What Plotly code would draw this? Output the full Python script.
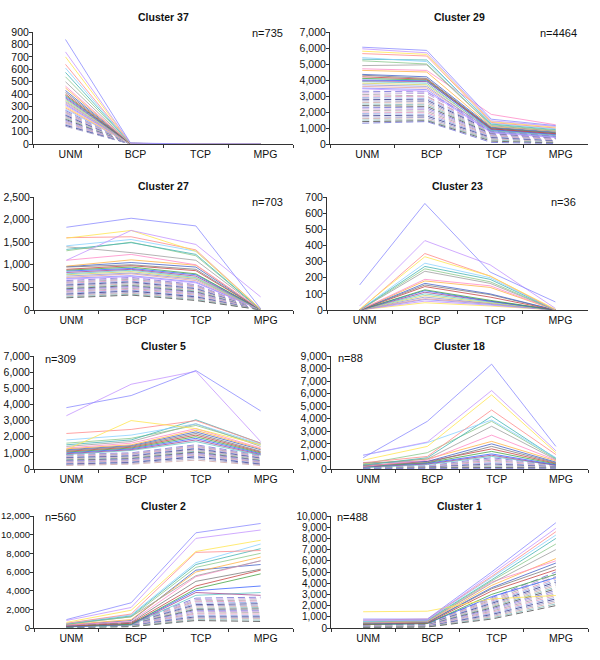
import plotly.graph_objects as go

CATEGORIES = ["UNM", "BCP", "TCP", "MPG"]

TITLES = ["Cluster 37", "Cluster 29", "Cluster 27", "Cluster 23",
          "Cluster 5", "Cluster 18", "Cluster 2", "Cluster 1"]
COUNTS = ["n=735", "n=4464", "n=703", "n=36", "n=309", "n=88", "n=560", "n=488"]
Y_MAX = [900, 7000, 2500, 700, 7000, 9000, 12000, 10000]
Y_STEP = [100, 1000, 500, 100, 1000, 1000, 2000, 1000]

# profiles: [UNM, BCP, TCP, MPG]
C37_SOLID = [[840, 8, 0, 0], [740, 6, 0, 0], [700, 5, 0, 0], [640, 6, 0, 0], [610, 4, 0, 0],
             [575, 5, 0, 0], [540, 6, 0, 0], [500, 4, 0, 0], [465, 5, 0, 0], [450, 4, 0, 0],
             [430, 5, 0, 0], [415, 3, 0, 0], [400, 4, 0, 0], [390, 3, 0, 0], [380, 5, 0, 0],
             [370, 3, 0, 0], [360, 4, 0, 0], [350, 3, 0, 0], [340, 2, 0, 0], [330, 3, 0, 0],
             [320, 2, 0, 0], [310, 3, 0, 0], [300, 2, 0, 0], [290, 2, 0, 0], [280, 2, 0, 0]]
C37_DASHED = [[270, 2, 0, 0], [262, 2, 0, 0], [254, 2, 0, 0], [246, 2, 0, 0], [238, 1, 0, 0],
              [230, 1, 0, 0], [222, 1, 0, 0], [214, 1, 0, 0], [206, 1, 0, 0], [198, 1, 0, 0],
              [190, 1, 0, 0], [182, 1, 0, 0], [174, 0, 0, 0], [166, 0, 0, 0], [158, 0, 0, 0],
              [150, 0, 0, 0], [142, 0, 0, 0]]

C29_SOLID = [[6050, 5850, 1550, 1150], [5950, 5700, 1450, 1100], [5800, 5600, 1400, 1050],
             [5650, 5500, 1350, 1000], [5400, 5150, 1300, 950], [5300, 5250, 1250, 900],
             [5200, 5000, 1200, 850], [4900, 4950, 1150, 800], [4700, 4600, 1850, 1200],
             [4600, 4500, 1100, 800], [4350, 4200, 1050, 750], [4300, 4100, 1000, 700],
             [4200, 4050, 950, 650], [4100, 4000, 1000, 700], [4000, 3950, 900, 600],
             [3950, 3900, 950, 650], [3900, 3800, 850, 550], [3800, 3700, 900, 600],
             [3700, 3600, 800, 500], [3600, 3500, 850, 550], [3500, 3400, 750, 450],
             [3450, 3300, 700, 400]]
C29_DASHED = [[3300, 3250, 1000, 600], [3200, 3150, 950, 580], [3100, 3000, 900, 550],
              [3000, 2950, 870, 520], [2900, 2850, 830, 500], [2800, 2750, 800, 470],
              [2700, 2650, 760, 440], [2600, 2550, 720, 420], [2500, 2450, 690, 390],
              [2400, 2350, 650, 360], [2300, 2250, 610, 330], [2200, 2150, 570, 300],
              [2100, 2050, 530, 270], [2000, 1950, 490, 240], [1900, 1850, 450, 210],
              [1800, 1750, 400, 180], [1700, 1650, 350, 150], [1600, 1550, 300, 120],
              [1500, 1500, 250, 90], [1400, 1450, 180, 60], [1300, 1400, 100, 30]]

C27_SOLID = [[1830, 2030, 1860, 30], [1100, 1760, 1450, 290], [1590, 1760, 1300, 20],
             [1600, 1620, 1330, 20], [1420, 1560, 1300, 15], [1340, 1490, 1230, 10],
             [1310, 1500, 1200, 10], [1400, 1270, 1100, 20], [1100, 1230, 1000, 10],
             [970, 1110, 990, 10], [960, 1050, 950, 10], [950, 1000, 900, 10],
             [900, 980, 870, 10], [880, 950, 800, 10], [860, 920, 780, 10],
             [830, 900, 750, 10], [800, 880, 720, 5], [780, 850, 700, 5],
             [750, 820, 680, 5], [720, 800, 650, 5], [700, 760, 620, 5], [680, 740, 600, 5]]
C27_DASHED = [[650, 720, 560, 5], [630, 700, 545, 5], [610, 680, 530, 5], [590, 660, 510, 5],
              [570, 640, 490, 5], [550, 620, 470, 5], [530, 600, 455, 5], [510, 580, 440, 5],
              [490, 560, 420, 5], [470, 540, 400, 5], [450, 520, 385, 5], [430, 500, 370, 5],
              [410, 480, 350, 5], [390, 460, 330, 5], [370, 440, 310, 5], [350, 420, 290, 5],
              [330, 390, 270, 5], [310, 370, 250, 5], [290, 350, 230, 5], [270, 330, 210, 5]]

C23_SOLID = [[155, 660, 235, 50], [25, 430, 280, 10], [5, 330, 210, 5], [0, 350, 210, 0],
             [0, 290, 200, 0], [0, 270, 190, 0], [0, 255, 175, 0], [0, 240, 165, 0],
             [0, 190, 150, 0], [0, 180, 140, 0], [0, 165, 100, 0], [0, 155, 95, 0],
             [0, 145, 80, 0], [0, 125, 60, 0], [0, 120, 55, 0], [0, 110, 55, 0],
             [0, 100, 50, 0], [0, 90, 45, 0], [0, 80, 40, 0], [0, 70, 40, 0],
             [0, 65, 35, 0], [0, 55, 30, 0], [0, 45, 25, 0]]
C23_DASHED = []

C5_SOLID = [[3800, 4550, 6100, 3600], [3300, 5250, 6050, 1700], [1200, 3000, 2500, 1500],
            [2200, 2450, 3000, 1600], [1800, 2100, 2800, 1550], [1500, 1800, 3050, 1600],
            [1600, 1900, 2700, 1500], [1400, 1700, 2800, 1400], [1300, 1600, 2500, 1300],
            [1250, 1500, 2400, 1250], [1200, 1450, 2300, 1200], [1150, 1400, 2200, 1100],
            [1100, 1350, 2100, 1050], [1050, 1300, 2000, 1000], [1000, 1250, 1900, 950],
            [950, 1200, 1800, 900], [900, 1150, 1700, 850]]
C5_DASHED = [[900, 1000, 1500, 850], [860, 960, 1450, 810], [820, 920, 1400, 780],
             [780, 880, 1350, 740], [740, 840, 1300, 700], [700, 800, 1250, 670],
             [660, 760, 1200, 630], [620, 720, 1150, 600], [580, 680, 1100, 560],
             [540, 640, 1050, 520], [500, 600, 1000, 490], [460, 560, 950, 450],
             [420, 520, 900, 420], [380, 480, 850, 380], [340, 440, 800, 340],
             [300, 400, 750, 300], [260, 350, 650, 260], [220, 300, 550, 220]]

C18_SOLID = [[900, 3800, 8350, 1800], [1100, 2150, 6250, 1450], [700, 1800, 5900, 1300],
             [500, 1000, 4700, 1150], [1100, 2100, 3900, 900], [300, 900, 4200, 850],
             [400, 1300, 3800, 800], [350, 800, 3400, 750], [200, 700, 2700, 700],
             [400, 800, 2200, 650], [500, 600, 2000, 550], [300, 500, 1800, 500],
             [250, 600, 1600, 450], [200, 500, 1400, 400], [200, 450, 1200, 350],
             [150, 400, 1100, 300], [100, 350, 1000, 300]]
C18_DASHED = [[150, 250, 900, 300], [130, 220, 800, 270], [110, 200, 700, 240],
              [100, 180, 600, 210], [90, 160, 500, 190], [80, 140, 400, 170],
              [70, 120, 320, 150], [60, 100, 250, 120], [50, 80, 180, 100],
              [40, 60, 120, 80], [30, 50, 80, 60]]

C2_SOLID = [[900, 2700, 10200, 11200], [800, 2200, 9600, 10500], [600, 1900, 8200, 9400],
            [500, 1500, 8100, 8300], [500, 1400, 7000, 9000], [450, 1300, 6800, 8500],
            [400, 1200, 6500, 8000], [400, 1200, 5600, 7200], [300, 700, 5500, 7200],
            [350, 900, 6000, 7600], [300, 800, 6200, 6800], [250, 600, 5000, 6300],
            [200, 500, 4500, 6200], [200, 400, 4200, 5800], [150, 400, 4000, 4500],
            [150, 350, 3800, 3500], [100, 300, 3500, 3800]]
C2_DASHED = [[300, 600, 3200, 3300], [290, 580, 3050, 3150], [280, 560, 2900, 3000],
             [270, 540, 2800, 2900], [260, 520, 2650, 2750], [250, 500, 2500, 2600],
             [240, 480, 2400, 2450], [230, 460, 2250, 2300], [220, 440, 2100, 2200],
             [210, 420, 2000, 2050], [200, 400, 1900, 1900], [180, 380, 1750, 1800],
             [160, 350, 1600, 1650], [140, 320, 1500, 1500], [120, 290, 1350, 1350],
             [100, 260, 1200, 1200], [90, 230, 1100, 1100], [80, 200, 1000, 1000],
             [70, 170, 900, 850], [60, 140, 800, 700]]

C1_SOLID = [[800, 800, 5000, 9400], [700, 700, 4800, 8900], [1450, 1500, 2600, 2900],
            [700, 800, 4600, 8600], [600, 750, 4500, 8300], [600, 700, 4300, 8000],
            [550, 650, 4200, 7500], [500, 600, 4000, 7000], [500, 600, 4100, 6000],
            [450, 550, 3800, 6200], [400, 500, 3600, 5800], [400, 500, 3500, 5500],
            [350, 450, 3300, 5200], [300, 400, 3000, 4800], [300, 400, 2800, 4500]]
C1_DASHED = [[400, 450, 2700, 5000], [380, 430, 2600, 4800], [360, 410, 2500, 4600],
             [340, 390, 2400, 4400], [320, 370, 2300, 4250], [300, 350, 2200, 4100],
             [280, 330, 2100, 3950], [260, 310, 2000, 3800], [240, 290, 1900, 3650],
             [220, 270, 1800, 3500], [200, 250, 1700, 3350], [180, 230, 1600, 3200],
             [160, 210, 1500, 3050], [140, 190, 1400, 2900], [120, 170, 1300, 2750],
             [100, 150, 1200, 2600], [90, 130, 1100, 2450], [80, 110, 1000, 2300],
             [70, 100, 900, 2150], [60, 90, 800, 2000]]

PANELS = [(C37_SOLID, C37_DASHED), (C29_SOLID, C29_DASHED), (C27_SOLID, C27_DASHED),
          (C23_SOLID, C23_DASHED), (C5_SOLID, C5_DASHED), (C18_SOLID, C18_DASHED),
          (C2_SOLID, C2_DASHED), (C1_SOLID, C1_DASHED)]

SOLID_COLORS = ['#8c8cff', '#c496ff', '#ffe650', '#ff8c8c', '#8cd2ff', '#46b4b4', '#8cc88c',
                '#a0a0a0', '#ff8cc8', '#ffb446', '#4664c8', '#7d7d7d', '#c84646', '#46a546',
                '#3c64ff', '#a54691', '#64c8c8', '#d2d264', '#9696d2', '#e6a0a0']
DASH_COLORS = ['#8c8cdc', '#c8a8e0', '#b4b4b4', '#e6a8c8', '#a0b8e8', '#5a5aa0',
               '#a8a8d0', '#d8b8b8', '#98c8c8', '#707070']

W, H = 600, 660
# pixel boxes [left, right, top, bottom]
BOXES = [(33, 293, 32, 144), (330, 588, 32, 144),
         (34, 293, 197, 310), (327, 588, 197, 310),
         (34, 293, 356, 469), (331, 588, 356, 469),
         (34, 293, 516, 628), (331, 588, 516, 628)]
COUNT_POS = [(267, 33), (558, 33), (267, 202), (563, 202),
             (60, 359), (350, 358), (60, 517), (352, 517)]
TITLE_Y = [17, 17, 186, 186, 346, 346, 506, 506]
YTICK_SIZE = [10.5, 10.5, 10.5, 10.5, 10.5, 10.5, 9.5, 10]

FONT = "Liberation Sans, Arial, Helvetica, sans-serif"

fig = go.Figure()
annotations = []
for i, (solid, dashed) in enumerate(PANELS):
    k = "" if i == 0 else str(i + 1)
    xa, ya = "x" + k, "y" + k
    for j, row in enumerate(dashed):
        fig.add_trace(go.Scatter(x=CATEGORIES, y=row, mode="lines", xaxis=xa, yaxis=ya,
                                 line=dict(color=DASH_COLORS[j % len(DASH_COLORS)], width=1,
                                           dash="7px,4px"),
                                 showlegend=False, hoverinfo="skip"))
    for j, row in reversed(list(enumerate(solid))):
        fig.add_trace(go.Scatter(x=CATEGORIES, y=row, mode="lines", xaxis=xa, yaxis=ya,
                                 line=dict(color=SOLID_COLORS[j % len(SOLID_COLORS)], width=0.8),
                                 showlegend=False, hoverinfo="skip"))
    l, r, t, b = BOXES[i]
    xd = [l / W, r / W]
    yd = [1 - b / H, 1 - t / H]
    fig.layout["xaxis" + k] = dict(domain=xd, anchor=ya, type="category",
                                   categoryorder="array", categoryarray=CATEGORIES,
                                   range=[-0.5, 3.5], showline=True, linecolor="#333",
                                   linewidth=1, ticks="outside", tickson="boundaries",
                                   ticklen=3, tickcolor="#333", showgrid=False,
                                   zeroline=False, automargin=False, ticklabelshift=5,
                                   tickfont=dict(family=FONT, size=10.5, color="#111"))
    fig.layout["yaxis" + k] = dict(domain=yd, anchor=xa, range=[0, Y_MAX[i]],
                                   dtick=Y_STEP[i], tick0=0, tickformat=",d",
                                   showline=True, linecolor="#333", linewidth=1,
                                   ticks="outside", ticklen=3, tickcolor="#333",
                                   showgrid=False, zeroline=False, automargin=False,
                                   ticklabelstandoff=-2,
                                   tickfont=dict(family=FONT, size=YTICK_SIZE[i], color="#111"))
    annotations.append(dict(text="<b>" + TITLES[i] + "</b>", x=(l + r) / 2 / W,
                            y=1 - TITLE_Y[i] / H, xref="paper", yref="paper",
                            showarrow=False, xanchor="center", yanchor="middle",
                            font=dict(family=FONT, size=10.5, color="#111")))
    cx, cy = COUNT_POS[i]
    annotations.append(dict(text=COUNTS[i], x=cx / W, y=1 - cy / H, xref="paper",
                            yref="paper", showarrow=False, xanchor="center",
                            yanchor="middle", font=dict(family=FONT, size=11, color="#111")))

fig.update_layout(width=W, height=H, margin=dict(l=0, r=0, t=0, b=0),
                  paper_bgcolor="white", plot_bgcolor="white",
                  annotations=annotations, showlegend=False)
fig.write_html("out.html", config={"displayModeBar": False},
               post_script="document.body.style.margin='0';document.body.style.overflow='hidden';")
